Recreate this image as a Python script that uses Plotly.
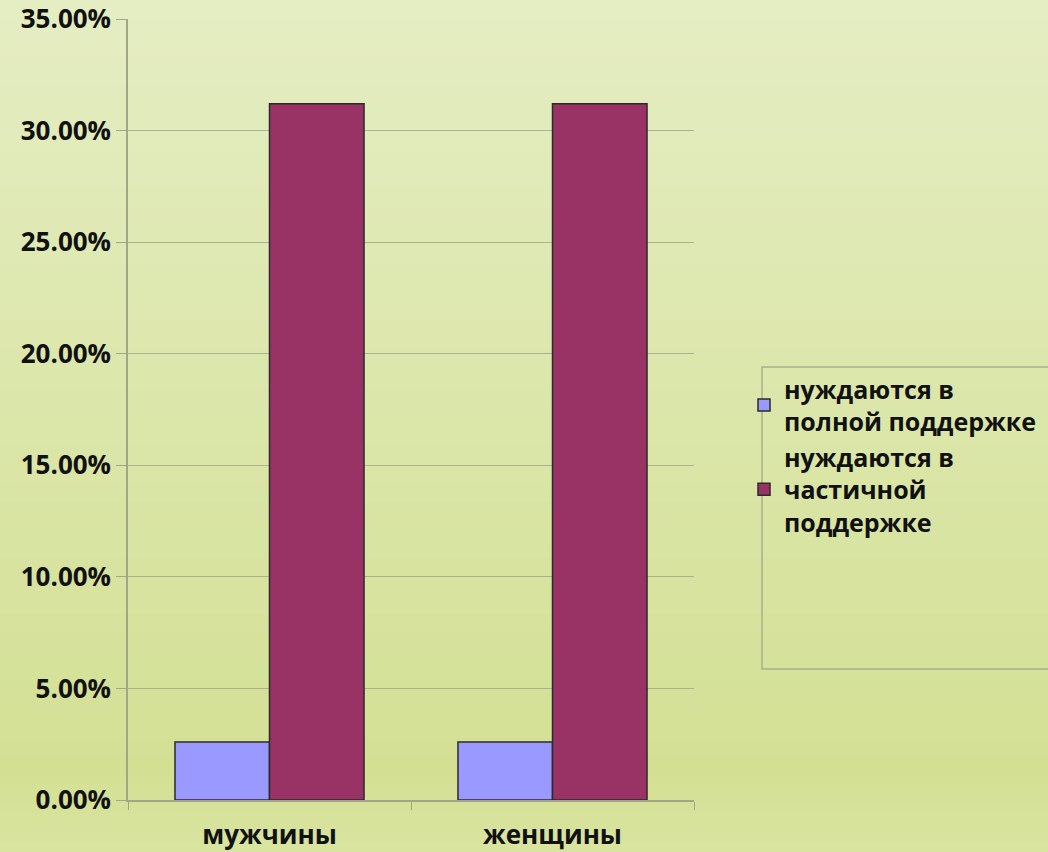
import plotly.graph_objects as go

categories = ["мужчины", "женщины"]
series_names = ["нуждаются в<br>полной поддержке", "нуждаются в<br>частичной<br>поддержке"]
full_support = [0.026, 0.026]
partial_support = [0.312, 0.312]
y_ticks = [0, 0.05, 0.10, 0.15, 0.20, 0.25, 0.30, 0.35]

W, H = 1048, 852
L, R, T, B = 128, 354, 19, 52
PW, PH = W - L - R, H - T - B


def px_x(p):
    return (p - L) / PW


def px_y(p):
    return (H - B - p) / PH


FONT = "Open Sans"
fig = go.Figure()
fig.add_trace(go.Bar(
    x=categories, y=full_support, name=series_names[0],
    marker=dict(color="#9999ff", line=dict(color="#2b2b2b", width=1.5)),
))
fig.add_trace(go.Bar(
    x=categories, y=partial_support, name=series_names[1],
    marker=dict(color="#993366", line=dict(color="#2b2b2b", width=1.5)),
))

# background gradient (styling only)
shapes = []
top = (229, 237, 195)
mid = (211, 224, 148)
bot = (217, 228, 159)
n = 90
for i in range(n):
    p0 = H * i / n
    p1 = H * (i + 1) / n
    pc = (p0 + p1) / 2
    if pc <= 770:
        t = pc / 770
        c = tuple(round(a + (b - a) * t) for a, b in zip(top, mid))
    else:
        t = (pc - 770) / (H - 770)
        c = tuple(round(a + (b - a) * t) for a, b in zip(mid, bot))
    shapes.append(dict(
        type="rect", xref="paper", yref="paper", layer="below",
        x0=px_x(-2), x1=px_x(W + 2), y0=px_y(p1 + 0.5), y1=px_y(p0 - 0.5),
        fillcolor="rgb(%d,%d,%d)" % c, line=dict(width=0),
    ))
# legend box
shapes.append(dict(
    type="rect", xref="paper", yref="paper", layer="below",
    x0=px_x(762), x1=px_x(1060), y0=px_y(669), y1=px_y(367),
    fillcolor="rgba(0,0,0,0)", line=dict(color="#a9b08c", width=1.5),
))

fig.update_layout(
    width=W, height=H,
    margin=dict(l=L, r=R, t=T, b=B, autoexpand=False),
    paper_bgcolor="#dfe8b5",
    plot_bgcolor="rgba(0,0,0,0)",
    barmode="group", bargap=0.332, bargroupgap=0,
    font=dict(family=FONT, size=24, color="#111111", weight="bold"),
    showlegend=True,
    legend=dict(
        x=px_x(744), y=px_y(366), xanchor="left", yanchor="top",
        bgcolor="rgba(0,0,0,0)", borderwidth=0,
        font=dict(family=FONT, size=25, color="#111111", weight="bold"),
        tracegroupgap=4,
    ),
    shapes=shapes,
    xaxis=dict(
        showline=True, linecolor="#a0a788", linewidth=1.5,
        ticks="outside", tickson="boundaries", ticklen=8, tickcolor="#a0a788",
        tickfont=dict(family=FONT, size=26, color="#111111", weight="bold"),
        ticklabelstandoff=11,
        showgrid=False,
    ),
    yaxis=dict(
        range=[0, 0.35], tickvals=y_ticks, tickformat=".2%",
        showline=True, linecolor="#a0a788", linewidth=1.5,
        ticks="outside", ticklen=10, tickcolor="#a0a788",
        showgrid=True, gridcolor="#abb28e", gridwidth=1.2,
        zeroline=False,
        tickfont=dict(family=FONT, size=26, color="#111111", weight="bold"),
    ),
)

fig.write_html(
    "out.html",
    config={"displayModeBar": False},
    post_script="document.body.style.margin='0';document.body.style.overflow='hidden';",
)
